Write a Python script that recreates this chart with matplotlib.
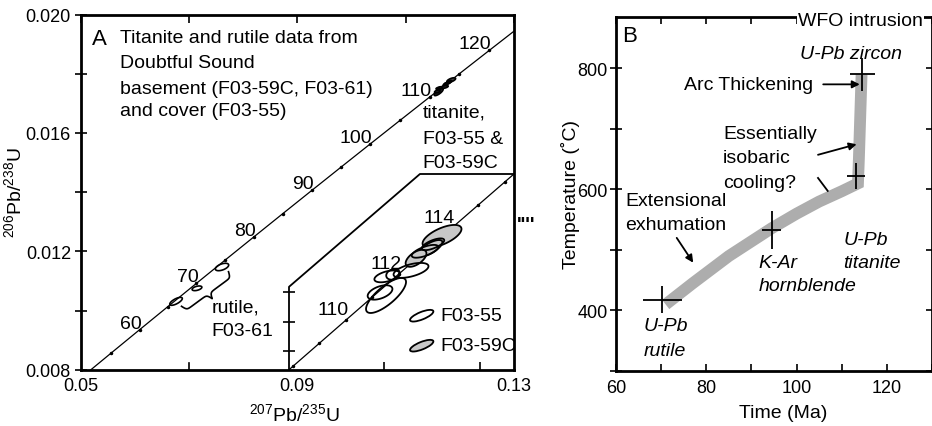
import numpy as np
import matplotlib
matplotlib.use('Agg')
import matplotlib.pyplot as plt
from matplotlib.patches import Polygon, Ellipse
import matplotlib.transforms as mtransforms

plt.rcParams['font.family'] = ['Liberation Sans', 'DejaVu Sans']
plt.rcParams['mathtext.fontset'] = 'custom'
plt.rcParams['mathtext.rm'] = 'Liberation Sans'
plt.rcParams['mathtext.it'] = 'Liberation Sans:italic'

# ---------------- Panel A data ----------------
conc_age = [50, 55, 60, 65, 70, 75, 80, 85, 90, 95, 100, 105, 110, 115, 120, 125]
conc_x = [0.050475, 0.055661, 0.060872, 0.066109, 0.071371, 0.076660, 0.081975, 0.087316,
          0.092683, 0.098078, 0.103498, 0.108945, 0.114419, 0.119920, 0.125449, 0.131004]
conc_y = [0.0077864, 0.0085684, 0.0093509, 0.0101341, 0.0109179, 0.0117023, 0.0124873, 0.0132729,
          0.0140592, 0.0148460, 0.0156335, 0.0164215, 0.0172102, 0.0179994, 0.0187893, 0.0195799]
conc_label_ages = [60, 70, 80, 90, 100, 110, 120]

inset_age = [107, 108, 109, 110, 111, 112, 113, 114, 115, 116, 117]
inset_x = [0.111132, 0.112226, 0.113322, 0.114419, 0.115517, 0.116617, 0.117717, 0.118818,
           0.119920, 0.121024, 0.122129]
inset_y = [0.0167369, 0.0168946, 0.0170524, 0.0172102, 0.0173680, 0.0175258, 0.0176837,
           0.0178415, 0.0179994, 0.0181574, 0.0183157]
inset_label_ages = [110, 112, 114]

# rutile, F03-61 (x, 2s, y, 2s, rho)
rut_x = [0.06760, 0.07147, 0.07609]
rut_sx = [0.00116, 0.00090, 0.00123]
rut_y = [0.01031, 0.01075, 0.01147]
rut_sy = [0.000134, 0.0000787, 0.000125]
rut_rho = [0.71, 0.46, 0.52]

# titanite F03-55 (open)
t55_x = [0.117125, 0.116129, 0.116088, 0.115839, 0.116378, 0.117706, 0.118038]
t55_sx = [0.000725, 0.000524, 0.000830, 0.000514, 0.000282, 0.000550, 0.000466]
t55_y = [0.0175511, 0.0175099, 0.0173793, 0.0173999, 0.0175236, 0.0176817, 0.0177298]
t55_sy = [0.0000511, 0.0000404, 0.000120, 0.0000493, 0.0000362, 0.0000439, 0.0000401]
t55_rho = [0.55, 0.49, 0.77, 0.48, 0.22, 0.67, 0.68]

# titanite F03-59C (grey)
t59_x = [0.118412, 0.117914, 0.117333]
t59_sx = [0.000808, 0.000514, 0.000432]
t59_y = [0.017785, 0.0177023, 0.0176336]
t59_sy = [0.0000773, 0.0000566, 0.0000581]
t59_rho = [0.64, 0.73, 0.58]

# ---------------- Panel B data ----------------
band_t = [71, 77, 85, 94.5, 100, 105, 110, 113.6, 113.8, 114.1, 114.4]
band_T = [410, 445, 490, 536, 560, 580, 597, 610, 650, 720, 790]
cross_t = [70.3, 94.5, 113.2, 114.6]
cross_T = [418, 533, 622, 790]
cross_terr = [4.3, 2.15, 2.0, 2.8]
cross_Terr = [22, 32, 22, 27]

GREY = '#c8c8c8'
BAND = '#adadad'

W, H = 932, 427
fig = plt.figure(figsize=(W / 100, H / 100), dpi=100)


def fr(x0, y0, x1, y1):
    return [x0 / W, 1 - y1 / H, (x1 - x0) / W, (y1 - y0) / H]


axA = fig.add_axes(fr(80.7, 15.5, 514, 370.7))
axI = fig.add_axes(fr(289, 175, 514, 370.7))
axB = fig.add_axes(fr(616, 18, 932, 372))


def ellipse_xy(x, sx, y, sy, rho, n=90):
    cov = np.array([[sx * sx, rho * sx * sy], [rho * sx * sy, sy * sy]])
    vals, vecs = np.linalg.eigh(cov)
    th = np.linspace(0, 2 * np.pi, n)
    circ = np.vstack([np.cos(th), np.sin(th)])
    pts = vecs @ (np.sqrt(vals)[:, None] * circ)
    return np.column_stack([x + pts[0], y + pts[1]])


def draw_ellipses(ax, xs, sxs, ys, sys_, rhos, fc, lw, z):
    for x, sx, y, sy, r in zip(xs, sxs, ys, sys_, rhos):
        ax.add_patch(Polygon(ellipse_xy(x, sx, y, sy, r), closed=True, facecolor=fc,
                             edgecolor='k', lw=lw, zorder=z))


FS = 14
TFS = 13

# ---------------- Panel A main ----------------
axA.set_xlim(0.05, 0.13)
axA.set_ylim(0.008, 0.020)
axA.plot(conc_x, conc_y, 'k-', lw=0.9, zorder=2)
axA.plot(conc_x, conc_y, 'k.', ms=3, zorder=2)
for age in conc_label_ages:
    i = conc_age.index(age)
    axA.annotate(str(age), (conc_x[i], conc_y[i]), xytext=(2, 2), textcoords='offset pixels',
                 ha='right', va='baseline', fontsize=FS)

draw_ellipses(axA, rut_x, rut_sx, rut_y, rut_sy, rut_rho, 'none', 1.2, 3)
draw_ellipses(axA, t59_x, t59_sx, t59_y, t59_sy, t59_rho, '#444444', 1.2, 3)
draw_ellipses(axA, t55_x, t55_sx, t55_y, t55_sy, t55_rho, '#222222', 1.2, 3)

for s in axA.spines.values():
    s.set_linewidth(2.0)
axA.set_xticks([0.05, 0.09, 0.13])
axA.set_xticklabels(['0.05', '0.09', '0.13'])
axA.set_xticks([0.07, 0.11], minor=True)
axA.set_yticks([0.008, 0.012, 0.016, 0.020])
axA.set_yticklabels(['0.008', '0.012', '0.016', '0.020'])
axA.set_yticks([0.010, 0.014, 0.018], minor=True)
axA.tick_params(axis='x', which='both', bottom=False, top=True, direction='in', length=6,
                width=1.2, labelsize=TFS, pad=5)
axA.tick_params(axis='y', which='both', left=True, right=False, direction='inout', length=8,
                width=1.2, labelsize=TFS, pad=3)
axA.plot([0.07, 0.07], [0, 0.018], color='k', lw=1.2, transform=axA.get_xaxis_transform(),
         clip_on=False)
axA.set_xlabel(r'$^{207}$Pb/$^{235}$U', fontsize=FS)
axA.xaxis.set_label_coords(0.494, -0.092)
axA.xaxis.label.set_va('top')
axA.set_ylabel(r'$^{206}$Pb/$^{238}$U', fontsize=FS)
axA.yaxis.set_label_coords(-0.128, 0.5)

axA.text(0.025, 0.933, 'A', transform=axA.transAxes, fontsize=16, ha='left', va='center')
titleA = ['Titanite and rutile data from', 'Doubtful Sound', 'basement (F03-59C, F03-61)',
          'and cover (F03-55)']
titleA_y = [0.9358, 0.8654, 0.7922, 0.7292]
for t, y in zip(titleA, titleA_y):
    axA.text(0.090, y, t, transform=axA.transAxes, fontsize=FS, ha='left', va='center')
titA = ['titanite,', 'F03-55 &', 'F03-59C']
titA_y = [0.7247, 0.6515, 0.5839]
for t, y in zip(titA, titA_y):
    axA.text(0.789, y, t, transform=axA.transAxes, fontsize=FS, ha='left', va='center')
rutA = ['rutile,', 'F03-61']
rutA_y = [0.1757, 0.1098]
for t, y in zip(rutA, rutA_y):
    axA.text(0.3014, y, t, transform=axA.transAxes, fontsize=FS, ha='left', va='center', zorder=5)

# legend
leg_labels = ['F03-55', 'F03-59C']
leg_fc = ['white', GREY]
leg_y = [0.152, 0.0676]
for lab, fc, y in zip(leg_labels, leg_fc, leg_y):
    tr = fig.dpi_scale_trans + mtransforms.ScaledTranslation(0.787, y, axA.transAxes)
    axA.add_patch(Ellipse((0, 0), 0.25, 0.075, angle=22, transform=tr, facecolor=fc,
                          edgecolor='k', lw=1.3, zorder=6))
    axA.text(0.830, y, lab, transform=axA.transAxes, fontsize=FS, ha='left', va='center')

# right-edge tick stubs
axA.text(1.006, 0.41, "''''", transform=axA.transAxes, fontsize=FS, fontweight='bold',
         ha='left', va='center')

# brace under rutile ellipses
fig.canvas.draw()
b0 = axA.transData.transform((0.068612, 0.010142))
b1 = axA.transData.transform((0.077290, 0.011311))
u = (b1 - b0) / np.linalg.norm(b1 - b0)
nvec = np.array([u[1], -u[0]])
L = np.linalg.norm(b1 - b0)
xs = np.linspace(0, L / 2, 60)
beta = 0.9
yh = 1 / (1 + np.exp(-beta * (xs - xs[0]))) + 1 / (1 + np.exp(-beta * (xs - xs[-1])))
yb = np.concatenate([yh, yh[-2::-1]])
yb = (yb - yb.min()) / (yb.max() - yb.min()) * 12
xb = np.linspace(0, L, len(yb))
pts = b0[None, :] + xb[:, None] * u[None, :] + yb[:, None] * nvec[None, :]
fig.add_artist(plt.Line2D(pts[:, 0], pts[:, 1], color='k', lw=1.2, transform=None))

# ---------------- Panel A inset ----------------
axI.set_xlim(0.11206, 0.12140)
axI.set_ylim(0.016871, 0.018211)
axI.patch.set_visible(False)
for s in axI.spines.values():
    s.set_visible(False)
axI.plot(inset_x, inset_y, 'k-', lw=0.9, zorder=2)
axI.plot(inset_x, inset_y, 'k.', ms=3, zorder=2)
for age in inset_label_ages:
    i = inset_age.index(age)
    axI.annotate(str(age), (inset_x[i], inset_y[i]), xytext=(3, 6), textcoords='offset pixels',
                 ha='right', va='baseline', fontsize=FS)
draw_ellipses(axI, t59_x, t59_sx, t59_y, t59_sy, t59_rho, GREY, 1.3, 3)
draw_ellipses(axI, t55_x, t55_sx, t55_y, t55_sy, t55_rho, 'none', 1.3, 4)
axI.plot([0, 0, 0.582, 1.0], [0, 0.4235, 1.0, 1.0], color='k', lw=1.3,
         transform=axI.transAxes, clip_on=False)
axI.set_xticks([0.116, 0.120])
axI.set_yticks([0.0170, 0.0172, 0.0174])
axI.tick_params(axis='x', bottom=True, direction='in', length=6, width=1.2, labelbottom=False)
axI.tick_params(axis='y', left=True, direction='inout', length=8, width=1.2, labelleft=False)

# ---------------- Panel B ----------------
axB.set_xlim(60, 130)
axB.set_ylim(300, 885)
axB.plot(band_t, band_T, color=BAND, lw=8.5, solid_capstyle='butt', solid_joinstyle='miter',
         zorder=2)
axB.errorbar(cross_t, cross_T, xerr=cross_terr, yerr=cross_Terr, fmt='none', ecolor='k',
             elinewidth=1.3, capsize=0, zorder=3)
for s in axB.spines.values():
    s.set_linewidth(2.0)
axB.set_xticks([60, 80, 100, 120])
axB.set_xticks([70, 90, 110, 130], minor=True)
axB.set_yticks([400, 600, 800])
axB.set_yticks([300, 500, 700], minor=True)
axB.tick_params(axis='x', which='both', bottom=True, top=True, direction='in', length=5,
                width=1.2, labelsize=TFS, pad=6)
axB.tick_params(axis='y', which='both', left=True, right=True, direction='inout', length=8,
                width=1.2, labelsize=TFS, pad=2)
axB.set_xlabel('Time (Ma)', fontsize=FS)
axB.xaxis.set_label_coords(0.529, -0.093)
axB.xaxis.label.set_va('top')
axB.set_ylabel('Temperature (˚C)', fontsize=FS)
axB.yaxis.set_label_coords(-0.114, 0.5)

axB.text(61.3, 855, 'B', fontsize=16, ha='left', va='center')
b_lines = ['WFO intrusion', 'U-Pb zircon', 'Arc Thickening', 'Essentially', 'isobaric',
           'cooling?', 'Extensional', 'exhumation', 'U-Pb', 'titanite', 'K-Ar', 'hornblende',
           'U-Pb', 'rutile']
b_x = [100.3, 100.8, 103.6, 83.7, 83.7, 83.7, 62.0, 62.0, 110.35, 110.35, 91.5, 91.5, 66.05, 66.05]
b_y = [878.5, 824.7, 773.7, 693, 653.5, 610.7, 581.6, 542, 517.4, 479, 479, 440.7, 374.8, 333.7]
b_ha = ['left', 'left', 'right', 'left', 'left', 'left', 'left', 'left', 'left', 'left', 'left',
        'left', 'left', 'left']
b_style = ['normal', 'italic', 'normal', 'normal', 'normal', 'normal', 'normal', 'normal',
           'italic', 'italic', 'italic', 'italic', 'italic', 'italic']
for t, x, y, ha, st in zip(b_lines, b_x, b_y, b_ha, b_style):
    txt = axB.text(x, y, t, fontsize=FS, ha=ha, va='center', style=st, zorder=5)
    if t == 'WFO intrusion':
        txt.set_bbox(dict(facecolor='white', edgecolor='none', pad=0.5))
        txt.set_clip_on(False)

arrow_tail = [(105.9, 773.7), (104.75, 657.3), (73.45, 520)]
arrow_head = [(114.0, 773.7), (113.3, 674.7), (77.1, 479)]
for tail, head in zip(arrow_tail, arrow_head):
    axB.annotate('', xy=head, xytext=tail,
                 arrowprops=dict(arrowstyle='-|>', color='k', lw=1.3, mutation_scale=11,
                                 shrinkA=0, shrinkB=0))
axB.plot([104.75, 106.9], [619, 597.6], color='k', lw=1.3)

fig.savefig('out.png', dpi=100)
